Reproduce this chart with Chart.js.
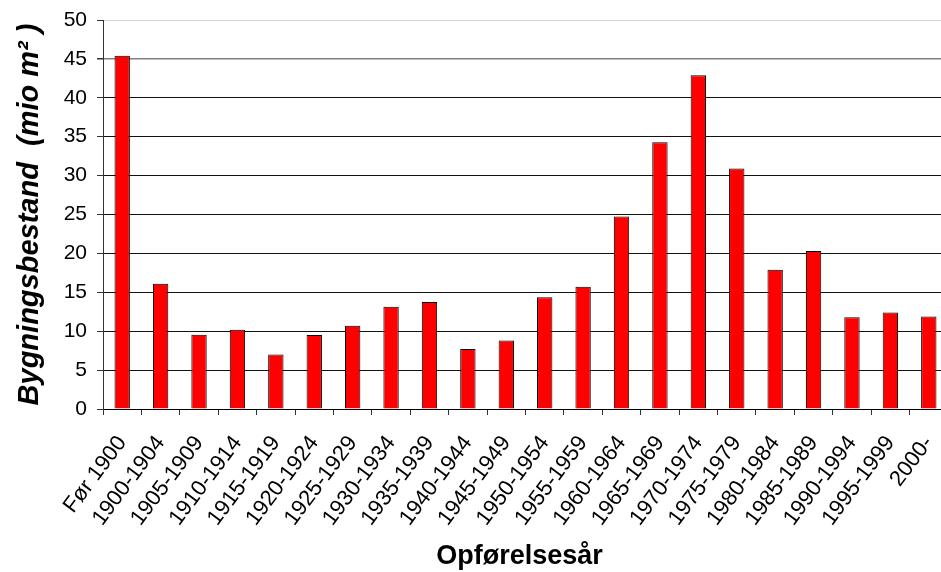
<!DOCTYPE html>
<html>
<head>
<meta charset="utf-8">
<script src="https://cdn.jsdelivr.net/npm/chart.js@4/dist/chart.umd.min.js"></script>
<style>
  html, body { margin: 0; padding: 0; background: #fff; overflow: hidden; }
  #wrap { position: relative; width: 950px; height: 572px; }
</style>
</head>
<body>
<div id="wrap"><canvas id="buildingChart"></canvas></div>
<script>
const periods = ["Før 1900", "1900-1904", "1905-1909", "1910-1914", "1915-1919", "1920-1924",
  "1925-1929", "1930-1934", "1935-1939", "1940-1944", "1945-1949", "1950-1954", "1955-1959",
  "1960-1964", "1965-1969", "1970-1974", "1975-1979", "1980-1984", "1985-1989", "1990-1994",
  "1995-1999", "2000-"]
const areaMio = [45.4, 16.1, 9.55, 10.2, 7.0, 9.5, 10.7, 13.15, 13.75, 7.7, 8.8, 14.35, 15.7,
  24.75, 34.3, 42.9, 30.9, 17.9, 20.3, 11.8, 12.4, 11.9]
const yMin = 0
const yMax = 50
const yStep = 5

const FONT = "'Liberation Sans', Arial, sans-serif"

// axis titles drawn by hand so they sit where the original puts them
const axisTitles = {
  id: "axisTitles",
  afterDraw(chart) {
    const { ctx, chartArea } = chart
    ctx.save()
    ctx.fillStyle = "#000"
    ctx.textAlign = "center"
    ctx.textBaseline = "middle"
    ctx.font = "bold 27px " + FONT
    ctx.fillText("Opførelsesår", (chartArea.left + chartArea.right) / 2 - 6, 557)

    ctx.translate(30, (chartArea.top + chartArea.bottom) / 2)
    ctx.rotate(-Math.PI / 2)
    ctx.font = "italic bold 29px " + FONT
    ctx.fillText("Bygningsbestand  (mio m² )", 0, 0)
    ctx.restore()
  },
}

document.addEventListener("DOMContentLoaded", () => {
  const ctx = document.getElementById("buildingChart")

  new Chart(ctx, {
    type: "bar",
    data: {
      labels: periods,
      datasets: [
        {
          label: "Bygningsbestand",
          data: areaMio,
          backgroundColor: "#ff0000",
          borderColor: "#000000",
          borderWidth: 1,
          barPercentage: 0.4,
          categoryPercentage: 1,
        },
      ],
    },
    options: {
      responsive: true,
      maintainAspectRatio: false,
      animation: false,
      layout: { padding: { top: 20, right: 2, left: 0, bottom: 0 } },
      scales: {
        x: {
          afterFit(scale) {
            scale.height = 163
            scale.paddingLeft = 0
            scale.paddingRight = 0
          },
          grid: {
            display: true,
            drawOnChartArea: false,
            drawTicks: true,
            tickLength: 6,
            color: "#333",
            offset: true,
          },
          border: { display: true, color: "#000", width: 1 },
          ticks: {
            color: "#000",
            font: { family: FONT, size: 22 },
            minRotation: 53,
            maxRotation: 53,
            autoSkip: false,
            padding: 16,
          },
        },
        y: {
          min: yMin,
          max: yMax,
          afterFit(scale) {
            scale.width = 103
            scale.paddingTop = 0
            scale.paddingBottom = 0
          },
          grid: {
            color: (c) => {
              if (c.tick && c.tick.value === 50) return "#d6d6d6"
              if (c.tick && c.tick.value === 45) return "#808080"
              return "#111"
            },
            lineWidth: (c) => (c.tick && c.tick.value === 45 ? 1.5 : 1),
            tickColor: "#333",
            tickLength: 6,
          },
          border: { display: true, color: "#333", width: 1 },
          ticks: {
            stepSize: yStep,
            color: "#000",
            font: { family: FONT, size: 21 },
            padding: 10,
          },
        },
      },
      plugins: {
        legend: { display: false },
        tooltip: { enabled: false },
      },
    },
    plugins: [axisTitles],
  })
})
</script>
</body>
</html>
